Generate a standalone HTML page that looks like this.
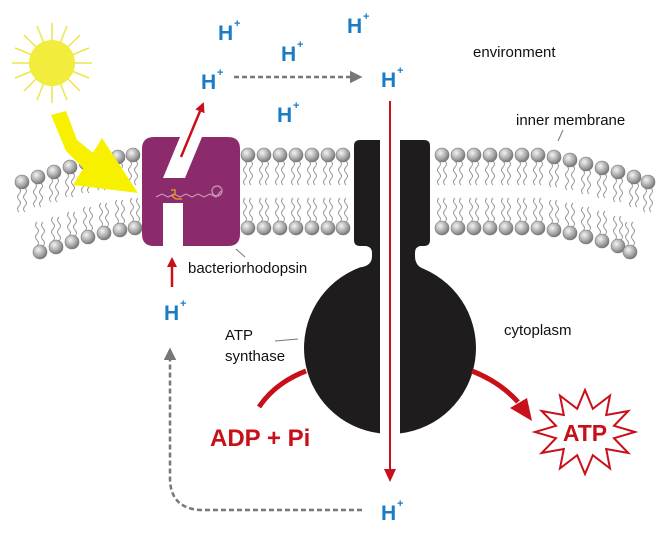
<!DOCTYPE html>
<html><head><meta charset="utf-8"><style>
html,body{margin:0;padding:0;background:#fff}
svg{display:block}
text{font-family:"Liberation Sans",Arial,sans-serif}
.h{fill:#1b7cc6;font-weight:bold;font-size:21px}
.s{fill:#1b7cc6;font-weight:bold;font-size:11px}
.l{fill:#111;font-size:15px}
</style></head><body>
<svg width="665" height="536" viewBox="0 0 665 536" xmlns="http://www.w3.org/2000/svg">
<defs>
<radialGradient id="g" cx="0.38" cy="0.35" r="0.7">
<stop offset="0" stop-color="#f4f4f4"/><stop offset="0.6" stop-color="#a8a8a8"/><stop offset="1" stop-color="#6e6e6e"/></radialGradient>
<g id="up">
<path d="M-3,6 q3,3 0,6 q-3,3 0,6 q3,3 0,6 q-3,3 0,6" fill="none" stroke="#999" stroke-width="1"/>
<path d="M3,6 q3,3 0,6 q-3,3 0,6 q3,3 0,6 q-3,3 0,6" fill="none" stroke="#999" stroke-width="1"/>
<circle r="7" fill="url(#g)" stroke="#777" stroke-width="0.6"/>
</g>
<g id="dn">
<path d="M-3,-6 q3,-3 0,-6 q-3,-3 0,-6 q3,-3 0,-6 q-3,-3 0,-6" fill="none" stroke="#999" stroke-width="1"/>
<path d="M3,-6 q3,-3 0,-6 q-3,-3 0,-6 q3,-3 0,-6 q-3,-3 0,-6" fill="none" stroke="#999" stroke-width="1"/>
<circle r="7" fill="url(#g)" stroke="#777" stroke-width="0.6"/>
</g>
<marker id="ar" viewBox="0 0 10 10" refX="8" refY="5" markerWidth="4" markerHeight="4" orient="auto"><path d="M0,0L10,5L0,10z" fill="#c8101a"/></marker>
<marker id="ag" viewBox="0 0 10 10" refX="8" refY="5" markerWidth="5" markerHeight="5" orient="auto"><path d="M0,0L10,5L0,10z" fill="#777"/></marker>
</defs>

<g>
<use href="#up" x="22" y="182"/><use href="#up" x="38" y="177"/><use href="#up" x="54" y="172"/><use href="#up" x="70" y="167"/><use href="#up" x="86" y="163"/><use href="#up" x="102" y="160"/><use href="#up" x="118" y="157"/><use href="#up" x="133" y="155"/>
<use href="#up" x="248" y="155"/><use href="#up" x="264" y="155"/><use href="#up" x="280" y="155"/><use href="#up" x="296" y="155"/><use href="#up" x="312" y="155"/><use href="#up" x="328" y="155"/><use href="#up" x="343" y="155"/>
<use href="#up" x="442" y="155"/><use href="#up" x="458" y="155"/><use href="#up" x="474" y="155"/><use href="#up" x="490" y="155"/><use href="#up" x="506" y="155"/><use href="#up" x="522" y="155"/><use href="#up" x="538" y="155"/><use href="#up" x="554" y="157"/><use href="#up" x="570" y="160"/><use href="#up" x="586" y="164"/><use href="#up" x="602" y="168"/><use href="#up" x="618" y="172"/><use href="#up" x="634" y="177"/><use href="#up" x="648" y="182"/>
<use href="#dn" x="40" y="252"/><use href="#dn" x="56" y="247"/><use href="#dn" x="72" y="242"/><use href="#dn" x="88" y="237"/><use href="#dn" x="104" y="233"/><use href="#dn" x="120" y="230"/><use href="#dn" x="135" y="228"/>
<use href="#dn" x="248" y="228"/><use href="#dn" x="264" y="228"/><use href="#dn" x="280" y="228"/><use href="#dn" x="296" y="228"/><use href="#dn" x="312" y="228"/><use href="#dn" x="328" y="228"/><use href="#dn" x="343" y="228"/>
<use href="#dn" x="442" y="228"/><use href="#dn" x="458" y="228"/><use href="#dn" x="474" y="228"/><use href="#dn" x="490" y="228"/><use href="#dn" x="506" y="228"/><use href="#dn" x="522" y="228"/><use href="#dn" x="538" y="228"/><use href="#dn" x="554" y="230"/><use href="#dn" x="570" y="233"/><use href="#dn" x="586" y="237"/><use href="#dn" x="602" y="241"/><use href="#dn" x="618" y="246"/><use href="#dn" x="630" y="252"/>
</g>

<g stroke="#ece64a" stroke-width="1.5">
<line x1="52" y1="63" x2="92" y2="63"/><line x1="52" y1="63" x2="12" y2="63"/><line x1="52" y1="63" x2="52" y2="23"/><line x1="52" y1="63" x2="52" y2="103"/>
<line x1="52" y1="63" x2="80" y2="35"/><line x1="52" y1="63" x2="24" y2="91"/><line x1="52" y1="63" x2="24" y2="35"/><line x1="52" y1="63" x2="80" y2="91"/>
<line x1="52" y1="63" x2="89" y2="48"/><line x1="52" y1="63" x2="15" y2="78"/><line x1="52" y1="63" x2="89" y2="78"/><line x1="52" y1="63" x2="15" y2="48"/>
<line x1="52" y1="63" x2="67" y2="26"/><line x1="52" y1="63" x2="37" y2="100"/><line x1="52" y1="63" x2="37" y2="26"/><line x1="52" y1="63" x2="67" y2="100"/>
</g>
<circle cx="52" cy="63" r="23" fill="#f2ec3c"/>
<path d="M51,115 L66,111 L77,140 L97,156 L84,169 L66,151z" fill="#f7f100"/>
<path d="M102,138 L73,185 L138,193z" fill="#f7f100"/>

<path d="M154,137 H228 Q240,137 240,149 V234 Q240,246 228,246 H183 V203 H163 V246 H154 Q142,246 142,234 V149 Q142,137 154,137z M180,137 L163,178 H185 L202,137z" fill="#8b2b6c" fill-rule="evenodd"/>
<path d="M156,197 l6,-3 l6,3 l6,-3 l6,3 l6,-3 l6,3 l6,-3 l6,3 l6,-3 l6,3 l5,-6" fill="none" stroke="#c89ab8" stroke-width="1.2"/>
<circle cx="217" cy="191" r="5" fill="none" stroke="#c89ab8" stroke-width="1.2"/>
<path d="M171,190 l4,0 l0,4 l-3,2 l4,3 l6,0" fill="none" stroke="#e0922a" stroke-width="1.5"/>
<line x1="181" y1="157" x2="203" y2="104" stroke="#c8101a" stroke-width="2.5" marker-end="url(#ar)"/>
<line x1="172" y1="287" x2="172" y2="259" stroke="#c8101a" stroke-width="2.5" marker-end="url(#ar)"/>
<line x1="236" y1="249" x2="245" y2="257" stroke="#777" stroke-width="1"/>

<!-- ATP synthase -->
<path d="M380,140 H360 Q354,140 354,146 V240 Q354,246 360,246 H366 Q372,247 372,253 V256 Q372,266 360,267.4 A86,86 0 0 0 380,433.4 Z" fill="#1e1c1c"/>
<path d="M400,140 H424 Q430,140 430,146 V240 Q430,246 424,246 H420 Q415,247 415,253 V256 Q415,266 424,269 A86,86 0 0 1 400,433.4 Z" fill="#1e1c1c"/>
<line x1="390" y1="101" x2="390" y2="476" stroke="#c8101a" stroke-width="2"/>
<path d="M384,469 L396,469 L390,482z" fill="#c8101a"/>

<path d="M259,407 Q275,383 306,371" fill="none" stroke="#c8101a" stroke-width="5"/>
<path d="M472,371 Q500,382 518,402" fill="none" stroke="#c8101a" stroke-width="5"/>
<path d="M510,408 L527,398 L532,421z" fill="#c8101a"/>
<polygon points="635,432 614,425.8 628.3,411 606.2,415 610,395.6 592.8,408.8 585,390 577.2,408.8 560,395.6 563.8,415 541.7,411 556,425.8 535,432 556,438.2 541.7,453 563.8,449 560,468.4 577.2,455.2 585,474 592.8,455.2 610,468.4 606.2,449 628.3,453 614,438.2" fill="#fff" stroke="#c8101a" stroke-width="2"/>
<text x="585" y="441" text-anchor="middle" style="fill:#c8101a;font-weight:bold;font-size:23px">ATP</text>
<text x="210" y="446" style="fill:#c8101a;font-weight:bold;font-size:24px">ADP + Pi</text>

<line x1="234" y1="77" x2="360" y2="77" stroke="#777" stroke-width="2.5" stroke-dasharray="5,3" marker-end="url(#ag)"/>
<path d="M362,510 H200 Q170,508 170,478 V350" fill="none" stroke="#777" stroke-width="2.5" stroke-dasharray="5,3" marker-end="url(#ag)"/>

<text class="h" x="218" y="40">H</text><text class="s" x="234" y="27">+</text>
<text class="h" x="281" y="61">H</text><text class="s" x="297" y="48">+</text>
<text class="h" x="347" y="33">H</text><text class="s" x="363" y="20">+</text>
<text class="h" x="201" y="89">H</text><text class="s" x="217" y="76">+</text>
<text class="h" x="381" y="87">H</text><text class="s" x="397" y="74">+</text>
<text class="h" x="277" y="122">H</text><text class="s" x="293" y="109">+</text>
<text class="h" x="164" y="320">H</text><text class="s" x="180" y="307">+</text>
<text class="h" x="381" y="520">H</text><text class="s" x="397" y="507">+</text>

<text class="l" x="473" y="57">environment</text>
<text class="l" x="516" y="125">inner membrane</text>
<line x1="563" y1="130" x2="558" y2="141" stroke="#777" stroke-width="1"/>
<text class="l" x="188" y="273">bacteriorhodopsin</text>
<text class="l" x="225" y="340">ATP</text>
<text class="l" x="225" y="361">synthase</text>
<line x1="275" y1="341" x2="298" y2="339" stroke="#777" stroke-width="1"/>
<text class="l" x="504" y="335">cytoplasm</text>
</svg>
</body></html>
